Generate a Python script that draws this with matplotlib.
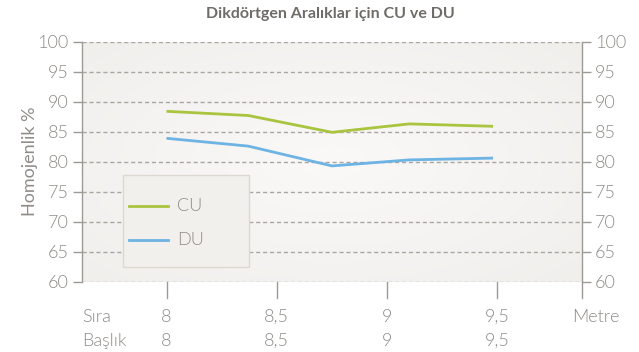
import matplotlib
matplotlib.use("Agg")
import matplotlib.pyplot as plt
import numpy as np
from matplotlib import font_manager
from matplotlib.patches import Rectangle
from matplotlib.lines import Line2D
import matplotlib.transforms as mtransforms

# Data
spacing = [8.0, 8.37, 8.75, 9.1, 9.48]
cu = [88.4, 87.7, 84.9, 86.3, 85.9]
du = [83.9, 82.6, 79.3, 80.3, 80.6]
series_names = ["CU", "DU"]
x_ticks = [8.0, 8.5, 9.0, 9.5]
x_tick_labels = ["8", "8,5", "9", "9,5"]
row_names = ["Sıra", "Başlık"]
y_ticks = list(range(60, 101, 5))

title = "Dikdörtgen Aralıklar için CU ve DU"
y_label = "Homojenlik %"
x_unit = "Metre"

names = {f.name for f in font_manager.fontManager.ttflist}
family = "Lato" if "Lato" in names else "DejaVu Sans"
plt.rcParams["font.family"] = family
plt.rcParams["font.weight"] = 300

TXT = "#8f8c88"
TITLE = "#6f6c68"
AXIS = "#9d9a95"
GRID = "#aaa7a2"
GREEN = "#a9c43e"
BLUE = "#6db3e3"
FS = 13

W, H = 639, 352
fig = plt.figure(figsize=(W / 100, H / 100), dpi=100)
fig.patch.set_facecolor("white")

L, R, T, B = 82, 582, 41.7, 281.7
ax = fig.add_axes([L / W, 1 - B / H, (R - L) / W, (B - T) / H])
ax.set_xlim(7.617, 9.883)
ax.set_ylim(60, 100)
ax.patch.set_alpha(0)

# soft radial background fill of the plot area
gx, gy = np.meshgrid(np.linspace(-1, 1, 300), np.linspace(-1, 1, 150))
r = np.clip(np.sqrt(gx ** 2 + gy ** 2) / 1.414, 0, 1)
c0 = np.array([0xfa, 0xf9, 0xf8]) / 255
c1 = np.array([0xf1, 0xef, 0xec]) / 255
img = c0[None, None, :] * (1 - r[..., None]) + c1[None, None, :] * r[..., None]
ax.imshow(img, extent=[0, 1, 0, 1], transform=ax.transAxes, aspect="auto",
          zorder=0, interpolation="bilinear")

# dashed horizontal grid
for yv in y_ticks:
    ax.axhline(yv, color=GRID, lw=1.0, ls=(0, (3, 2)), zorder=1)

for s in ["top", "bottom"]:
    ax.spines[s].set_visible(False)
for s in ["left", "right"]:
    ax.spines[s].set_color(AXIS)
    ax.spines[s].set_linewidth(1.0)

ax.set_yticks(y_ticks)
ax.tick_params(axis="y", which="both", left=True, right=True, labelleft=True,
               labelright=True, direction="out", length=6.5, width=1.0,
               color=AXIS, labelcolor=TXT, labelsize=FS, pad=3)
ax.set_xticks([])

ax.plot(spacing, cu, color=GREEN, lw=2.0, zorder=3, solid_capstyle="butt")
ax.plot(spacing, du, color=BLUE, lw=2.0, zorder=3, solid_capstyle="butt")

ax.set_ylabel(y_label, color=TXT, fontsize=FS, labelpad=0)

# title
fig.text(330 / W, 1 - 14 / H, title, ha="center", va="center", color=TITLE,
         fontsize=11.5, fontweight="bold")

# bottom ticks and two label rows
px = mtransforms.blended_transform_factory(ax.transData, fig.transFigure)
tick_x = x_ticks + [ax.get_xlim()[1]]
for xv in tick_x:
    fig.add_artist(Line2D([xv, xv], [1 - 282 / H, 1 - 298 / H], transform=px,
                          color=AXIS, lw=1.0))
for xv, lab in zip(x_ticks, x_tick_labels):
    for yrow in (317, 341):
        fig.text(xv, 1 - yrow / H, lab, transform=px, ha="center",
                 va="center", color=TXT, fontsize=FS)
fig.text(82 / W, 1 - 317 / H, row_names[0], ha="left", va="center",
         color=TXT, fontsize=FS)
fig.text(82 / W, 1 - 341 / H, row_names[1], ha="left", va="center",
         color=TXT, fontsize=FS)
fig.text(596 / W, 1 - 317 / H, x_unit, ha="center", va="center", color=TXT,
         fontsize=FS)

# legend box
fig.add_artist(Rectangle((123.3 / W, 1 - 266.7 / H), (249 - 123.3) / W,
                         (266.7 - 175) / H, transform=fig.transFigure,
                         facecolor="#f2f0ec", edgecolor="#ddd9d1", lw=1.0,
                         zorder=4))
for name, col, yy in zip(series_names, [GREEN, BLUE], [205.7, 240]):
    fig.add_artist(Line2D([129.3 / W, 167.7 / W], [1 - yy / H, 1 - yy / H],
                          transform=fig.transFigure, color=col, lw=2.0,
                          zorder=5))
    fig.text(177 / W, 1 - yy / H, name, ha="left", va="center", color=TXT,
             fontsize=FS, zorder=5)

fig.savefig("out.png", dpi=100)
